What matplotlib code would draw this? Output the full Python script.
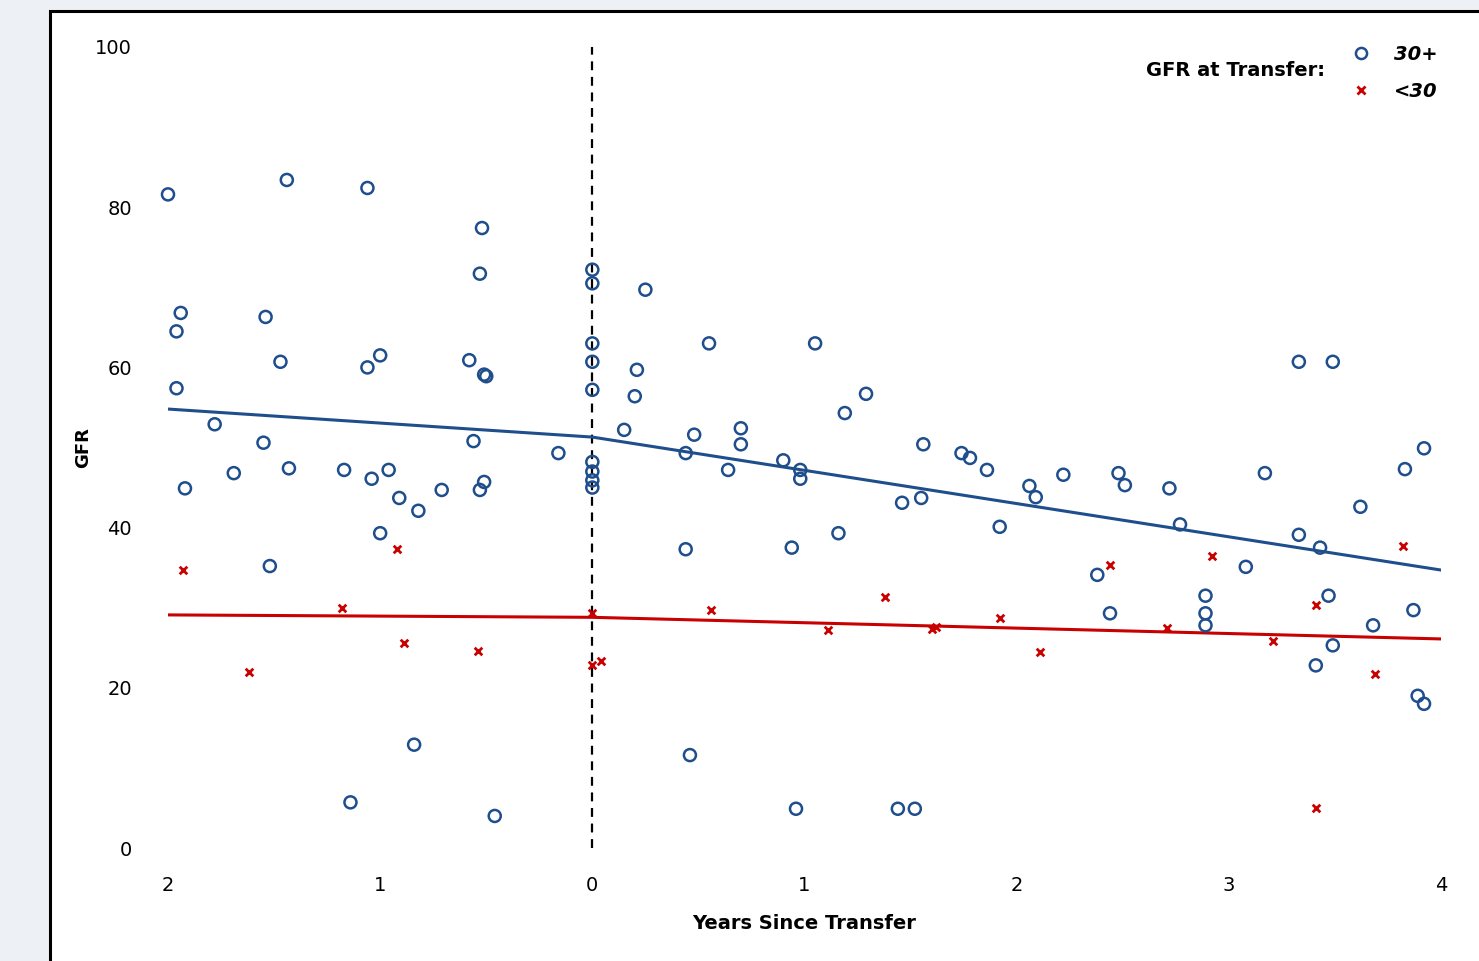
import matplotlib
matplotlib.use("Agg")
import matplotlib.pyplot as plt
from matplotlib.patches import Rectangle
from matplotlib.lines import Line2D

# ---- data ----
hi_x = [-2.00, -1.44, -1.06, -0.52, -0.53, 0.00, 0.00, 0.25, -1.94, -1.96,
        -1.54, -1.47, -1.06, -1.00, -0.58, -0.51, -0.50, 0.00, 0.00, 0.00,
        -1.96, 0.21, 0.20, 0.55, 1.05, 1.29, 1.19, -1.78, -1.55, -0.56,
        -0.16, 0.15, 0.48, 0.70, 0.70, 0.44, 0.64, 0.90, 0.98, 0.98,
        0.00, 0.00, 0.00, 0.00, -1.92, -1.69, -1.43, -1.17, -1.04, -0.96,
        -0.91, -0.82, -0.71, -0.53, -0.51, -1.00, -1.52, 1.56, 1.74, 1.78,
        1.86, 2.06, 2.09, 2.22, 2.48, 2.51, 2.72, 3.17, 3.33, 3.49,
        3.92, 3.83, 3.62, 1.46, 1.55, 1.92, 2.77, 3.33, 3.43, 2.38,
        3.08, 0.44, 0.94, 1.16, 2.44, 2.89, 2.89, 2.89, 3.47, 3.87,
        3.68, 3.49, 3.41, 3.89, 3.92, -0.84, 0.46, -1.14, -0.46, 0.96,
        1.44, 1.52]
hi_y = [81.6, 83.4, 82.4, 77.4, 71.7, 72.2, 70.5, 69.7, 66.8, 64.5,
        66.3, 60.7, 60.0, 61.5, 60.9, 59.1, 58.9, 63.0, 60.7, 57.2,
        57.4, 59.7, 56.4, 63.0, 63.0, 56.7, 54.3, 52.9, 50.6, 50.8,
        49.3, 52.2, 51.6, 52.4, 50.4, 49.3, 47.2, 48.4, 47.2, 46.1,
        48.2, 47.0, 45.9, 45.0, 44.9, 46.8, 47.4, 47.2, 46.1, 47.2,
        43.7, 42.1, 44.7, 44.7, 45.7, 39.3, 35.2, 50.4, 49.3, 48.7,
        47.2, 45.2, 43.8, 46.6, 46.8, 45.3, 44.9, 46.8, 60.7, 60.7,
        49.9, 47.3, 42.6, 43.1, 43.7, 40.1, 40.4, 39.1, 37.5, 34.1,
        35.1, 37.3, 37.5, 39.3, 29.3, 31.5, 29.3, 27.8, 31.5, 29.7,
        27.8, 25.3, 22.8, 19.0, 18.0, 12.9, 11.6, 5.7, 4.0, 4.9,
        4.9, 4.9]

lo_x = [-1.93, -1.62, -1.18, -0.92, -0.89, -0.54, 0.00, 0.00, 0.04, 0.56,
        1.11, 1.38, 1.60, 1.62, 1.92, 2.11, 2.44, 2.71, 2.92, 3.21,
        3.41, 3.41, 3.69, 3.82]
lo_y = [34.7, 22.0, 30.0, 37.3, 25.6, 24.6, 29.3, 22.8, 23.3, 29.7,
        27.2, 31.3, 27.3, 27.6, 28.7, 24.5, 35.3, 27.5, 36.5, 25.8,
        30.3, 5.0, 21.7, 37.7]

# piecewise (segmented) fitted lines, knot at 0
fit_x = [-2, 0, 4]
hi_fit = [54.8, 51.3, 34.7]
lo_fit = [29.1, 28.8, 26.1]

x_ticks = [-2, -1, 0, 1, 2, 3, 4]
x_tick_labels = ["2", "1", "0", "1", "2", "3", "4"]
y_ticks = [0, 20, 40, 60, 80, 100]
y_tick_labels = ["0", "20", "40", "60", "80", "100"]
legend_labels = ["30+", "<30"]

BLUE = "#1F4E8C"
RED = "#C80000"

W, H = 1479, 961
fig = plt.figure(figsize=(W / 100, H / 100), dpi=100, facecolor="#EDF1F6")

# white panel with black top/left border (right/bottom edges fall outside)
top = 1 - 11 / H
panel = Rectangle((50 / W, -0.5), 2.0, top + 0.5,
                  transform=fig.transFigure, facecolor="white",
                  edgecolor="black", linewidth=2.2, zorder=-10)
fig.patches.append(panel)

ax = fig.add_axes([168 / W, 1 - 848 / H, (1441 - 168) / W, (848 - 47) / H])
ax.set_zorder(1)
ax.set_facecolor("none")
ax.set_xlim(-2, 4)
ax.set_ylim(0, 100)
for s in ax.spines.values():
    s.set_visible(False)

ax.plot([0, 0], [0, 100], color="black", linestyle=(0, (4, 3)), linewidth=1.6,
        zorder=2, clip_on=False)

ax.plot(fit_x, hi_fit, color=BLUE, linewidth=2.2, zorder=3)
ax.plot(fit_x, lo_fit, color=RED, linewidth=2.2, zorder=3)

ax.scatter(hi_x, hi_y, s=75, facecolors="none", edgecolors=BLUE,
           linewidths=1.8, zorder=4, clip_on=False)
ax.scatter(lo_x, lo_y, s=30, marker="x", color=RED, linewidths=2.0,
           zorder=4, clip_on=False)

ax.set_xticks(x_ticks)
ax.set_xticklabels(x_tick_labels)
ax.set_yticks(y_ticks)
ax.set_yticklabels(y_tick_labels)
ax.tick_params(axis="both", length=0, labelsize=14, colors="black")
ax.tick_params(axis="x", pad=20)
ax.tick_params(axis="y", pad=26)

ax.set_xlabel("Years Since Transfer", fontsize=14, fontweight="bold", labelpad=14)
ax.set_ylabel("GFR", fontsize=13, fontweight="bold", labelpad=2)

handles = [Line2D([], [], linestyle="none", marker="o", markerfacecolor="none",
                  markeredgecolor=BLUE, markeredgewidth=1.8, markersize=8),
           Line2D([], [], linestyle="none", marker="x", color=RED,
                  markeredgewidth=2.0, markersize=5.5)]
leg = ax.legend(handles, legend_labels, loc="upper right",
                bbox_to_anchor=(1445 / W, 1 - 37 / H), bbox_transform=fig.transFigure,
                frameon=False, fontsize=14, handletextpad=1.2, labelspacing=0.95,
                borderaxespad=0, handlelength=1.0)
for t in leg.get_texts():
    t.set_fontweight("bold")
    t.set_fontstyle("italic")

fig.text(1325 / W, 1 - 70 / H, "GFR at Transfer:", ha="right", va="center",
         fontsize=14, fontweight="bold", zorder=5)

fig.savefig("out.png", dpi=100, facecolor=fig.get_facecolor())
